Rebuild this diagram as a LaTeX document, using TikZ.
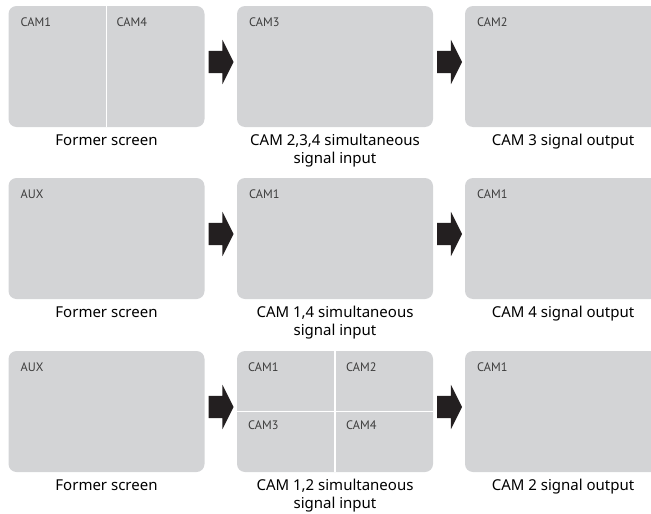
\documentclass[tikz,border=0pt]{standalone}
\usepackage{fontspec}
\setmainfont{Noto Sans}
\newfontfamily\tagfont{PT Sans}
\usepackage{tikz}
\usetikzlibrary{shapes.arrows,positioning}
\definecolor{scrGray} {RGB}{211,212,214}
\definecolor{arrBlack}{RGB}{35, 31, 32}
\definecolor{tagGray} {RGB}{60, 60, 60}

\begin{document}
\begin{tikzpicture}[x=1pt,y=-1pt,
          scr/.style={rectangle,rounded corners=8pt,fill=scrGray,
                      minimum width=196pt,minimum height=121pt,
                      inner sep=0pt,outer sep=0pt},
          arr/.style={single arrow,fill=arrBlack,inner xsep=0pt,inner ysep=11pt,
                      minimum height=25pt,single arrow head extend=11pt,
                      single arrow tip angle=126.87,outer sep=0pt},
          lbl/.style={align=center,inner sep=0pt,
                      font=\fontsize{15}{18}\selectfont},
          tag/.style={anchor=north west,inner sep=0pt,text=tagGray,
                      font=\tagfont\fontsize{12.3}{13}\selectfont},
          div/.style={white,line width=1.5pt},
        ]
        \useasboundingbox (0,0) rectangle (651,514);
        \clip (0,0) rectangle (651,514);
        % Bildschirme
        \node[scr] (p11) at (106.5,66.5) {};
        \node[scr] (p12) at (335,66.5)   {};
        \node[scr] (p13) at (563,66.5)   {};
        \node[scr] (p21) at (106.5,238.5){};
        \node[scr] (p22) at (335,238.5)  {};
        \node[scr] (p23) at (563,238.5)  {};
        \node[scr] (p31) at (106.5,411.5){};
        \node[scr] (p32) at (335,411.5)  {};
        \node[scr] (p33) at (563,411.5)  {};
        % Teilungen
        \draw[div] (p11.north) -- (p11.south);
        \draw[div] (p32.north) -- (p32.south);
        \draw[div] (p32.west) -- (p32.east);
        % Pfeile
        \foreach \a in {p11,p12,p21,p22,p31,p32}{
          \node[arr,right=4pt of \a,yshift=4.5pt] (\a-arr) {};
        }
        % Kanalnamen
        \node[tag,below right=12pt and 12pt of p11.north west] (t11a) {CAM1};
        \node[tag,below right=12pt and 10pt of p11.north]      (t11b) {CAM4};
        \node[tag,below right=12pt and 12pt of p12.north west] (t12)  {CAM3};
        \node[tag,below right=12pt and 12pt of p13.north west] (t13)  {CAM2};
        \node[tag,below right=12pt and 12pt of p21.north west] (t21)  {AUX};
        \node[tag,below right=12pt and 12pt of p22.north west] (t22)  {CAM1};
        \node[tag,below right=12pt and 12pt of p23.north west] (t23)  {CAM1};
        \node[tag,below right=12pt and 12pt of p31.north west] (t31)  {AUX};
        \node[tag,below right=12pt and 11pt of p32.north west] (t32a) {CAM1};
        \node[tag,below right=12pt and 11pt of p32.north]      (t32b) {CAM2};
        \node[tag,below right=9pt and 11pt of p32.west]        (t32c) {CAM3};
        \node[tag,below right=9pt and 11pt of p32.center]      (t32d) {CAM4};
        \node[tag,below right=12pt and 12pt of p33.north west] (t33)  {CAM1};
        % Beschriftungen
        \node[lbl,below=7pt of p11] (c11) {\vphantom{l}Former screen};
        \node[lbl,below=7pt of p12] (c12) {CAM 2,3,4 simultaneous\\signal input};
        \node[lbl,below=7pt of p13] (c13) {CAM 3 signal output};
        \node[lbl,below=7pt of p21] (c21) {\vphantom{l}Former screen};
        \node[lbl,below=7pt of p22] (c22) {CAM 1,4 simultaneous\\signal input};
        \node[lbl,below=7pt of p23] (c23) {CAM 4 signal output};
        \node[lbl,below=7pt of p31] (c31) {\vphantom{l}Former screen};
        \node[lbl,below=7pt of p32] (c32) {CAM 1,2 simultaneous\\signal input};
        \node[lbl,below=7pt of p33] (c33) {CAM 2 signal output};
      \end{tikzpicture}
\end{document}
